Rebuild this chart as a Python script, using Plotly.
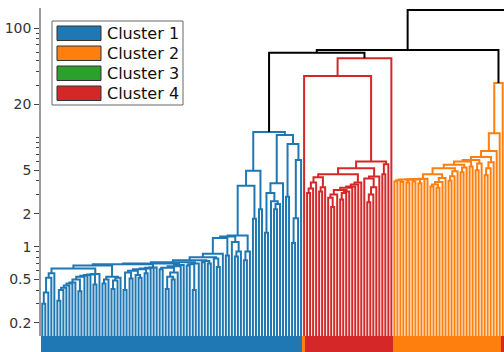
import plotly.graph_objects as go

# ---- data -----------------------------------------------------------------
cluster_names = ["Cluster 1", "Cluster 2", "Cluster 3", "Cluster 4"]
cluster_colors = ["#1f77b4", "#ff7f0e", "#2ca02c", "#d62728"]

# Merge height between each pair of neighbouring leaves, in dendrogram leaf order.
blue_gaps = [
    0.30, 0.38, 0.52, 0.57, 0.63, 0.32, 0.40, 0.42, 0.44, 0.46,
    0.47, 0.50, 0.39, 0.53, 0.54, 0.55, 0.555, 0.45, 0.56, 0.67,
    0.46, 0.50, 0.53, 0.41, 0.49, 0.52, 0.69, 0.40, 0.58, 0.51,
    0.60, 0.55, 0.52, 0.62, 0.57, 0.63, 0.64, 0.645, 0.70, 0.62,
    0.64, 0.41, 0.53, 0.50, 0.58, 0.66, 0.68, 0.72, 0.67, 0.69,
    0.40, 0.70, 0.75, 0.72, 0.74, 0.70, 0.80, 0.78, 0.65, 0.86,
    1.20, 0.83, 1.24, 1.10, 0.81, 0.90, 1.26, 0.75, 0.90, 3.6,
    1.8, 4.95, 2.2, 11.2, 1.34, 3.1, 2.6, 2.2, 2.45, 3.8,
    10.5, 2.86, 8.7, 1.08, 1.82, 6.2,
]
blue_red_merge = 59.4
red_gaps = [
    36.4, 3.1, 3.4, 3.85, 4.3, 3.2, 3.5, 4.6, 2.8, 2.3,
    3.0, 3.3, 2.7, 3.1, 3.2, 3.45, 3.55, 3.7, 3.85, 5.2,
    4.2, 2.55, 3.0, 3.5, 4.37, 6.0, 4.6, 5.66, 52.8,
]
red_orange_merge = 63.0
orange_gaps = [
    3.95, 4.05, 3.9, 4.1, 3.85, 4.1, 3.95, 4.12, 3.8, 4.15,
    4.18, 4.6, 3.55, 3.7, 3.45, 3.9, 4.25, 5.2, 4.0, 4.4,
    4.9, 5.6, 4.8, 5.3, 6.0, 5.4, 6.2, 5.0, 5.75, 6.6,
    4.5, 5.2, 5.9, 7.5, 10.9, 31.4,
]
root_merge = 146.0

# cluster index of every leaf (0=Cluster 1, 1=Cluster 2, 2=Cluster 3, 3=Cluster 4)
leaf_cluster = [0] * 87 + [3] * 30 + [1] * 37 + [2] * 1
# class shown in the strip under the leaves
leaf_label = [0] * 87 + [1] * 1 + [3] * 29 + [1] * 36 + [3] * 2

y_tick_vals = [0.2, 0.5, 1, 2, 5, 20, 100]
y_tick_text = ["0.2", "0.5", "1", "2", "5", "20", "100"]

# ---- dendrogram geometry -----------------------------------------------------
gaps = blue_gaps + [blue_red_merge] + red_gaps + [red_orange_merge] + orange_gaps + [root_merge]
n_leaves = len(gaps) + 1
LEAF_FLOOR = 0.05

segments = {c: ([], []) for c in cluster_colors + ["black"]}


def build(lo, hi):
    if lo == hi:
        return float(lo), LEAF_FLOOR, {leaf_cluster[lo]}
    k = max(range(lo, hi), key=lambda j: gaps[j])
    xl, hl, cl = build(lo, k)
    xr, hr, cr = build(k + 1, hi)
    h = gaps[k]
    members = cl | cr
    color = cluster_colors[next(iter(members))] if len(members) == 1 else "black"
    xs, ys = segments[color]
    xs.extend([xl, xl, xr, xr, None])
    ys.extend([hl, h, h, hr, None])
    return (xl + xr) / 2, h, members


build(0, n_leaves - 1)

fig = go.Figure()
for color in cluster_colors + ["black"]:
    xs, ys = segments[color]
    if not xs:
        continue
    fig.add_trace(go.Scatter(
        x=xs, y=ys, mode="lines", line=dict(color=color, width=2),
        hoverinfo="skip", showlegend=False, xaxis="x", yaxis="y",
    ))

# class strip under the leaves
fig.add_trace(go.Heatmap(
    x=list(range(n_leaves)), y=[0], z=[leaf_label],
    zmin=0, zmax=3, showscale=False, hoverinfo="skip",
    colorscale=[[0, cluster_colors[0]], [0.25, cluster_colors[0]],
                [0.25, cluster_colors[1]], [0.5, cluster_colors[1]],
                [0.5, cluster_colors[2]], [0.75, cluster_colors[2]],
                [0.75, cluster_colors[3]], [1, cluster_colors[3]]],
    xaxis="x", yaxis="y2",
))

minor_vals = [m * d for d in (0.1, 1, 10, 100) for m in range(1, 10)]
minor_vals = [v for v in minor_vals if all(abs(v - t) > 1e-9 for t in y_tick_vals)]

W, H = 504, 352
L, T = 41, 8
strip_h = 16
paper_h = H - T

fig.update_layout(
    width=W, height=H,
    margin=dict(l=L, r=0, t=T, b=0, pad=0),
    paper_bgcolor="white", plot_bgcolor="white",
    showlegend=False,
    xaxis=dict(range=[-0.432, 153.432], visible=False, showgrid=False, zeroline=False),
    yaxis=dict(
        type="log", range=[-0.818, 2.183], domain=[strip_h / paper_h, 1],
        tickmode="array", tickvals=y_tick_vals, ticktext=y_tick_text,
        ticks="outside", ticklen=5, tickwidth=1.2, tickcolor="#444",
        showline=True, linecolor="#999", linewidth=1.5,
        showgrid=False, zeroline=False,
        tickfont=dict(family="DejaVu Sans", size=14, color="#333"),
        minor=dict(tickmode="array", tickvals=minor_vals, ticks="outside",
                   ticklen=3, tickwidth=1, tickcolor="#444", showgrid=False),
    ),
    yaxis2=dict(domain=[0, strip_h / paper_h], range=[-0.5, 0.5], visible=False,
                anchor="x", showgrid=False, zeroline=False),
)


# legend drawn as patches + labels in paper coordinates
def px(x):
    return (x - L) / (W - L)


def py(y):
    return (H - y) / paper_h


shapes = [dict(type="rect", xref="paper", yref="paper",
               x0=px(52), x1=px(183), y0=py(105), y1=py(21),
               line=dict(color="#666", width=1), fillcolor="white", layer="above")]
annotations = []
for i, (name, color) in enumerate(zip(cluster_names, cluster_colors)):
    top = 26 + 20 * i
    shapes.append(dict(type="rect", xref="paper", yref="paper",
                       x0=px(57), x1=px(101), y0=py(top + 14.5), y1=py(top),
                       line=dict(color="#333", width=1), fillcolor=color, layer="above"))
    annotations.append(dict(xref="paper", yref="paper", x=px(105), y=py(top + 7.3),
                            text=name, showarrow=False, xanchor="left", yanchor="middle",
                            font=dict(family="DejaVu Sans", size=16, color="#111")))
fig.update_layout(shapes=shapes, annotations=annotations)

fig.write_html("out.html")
